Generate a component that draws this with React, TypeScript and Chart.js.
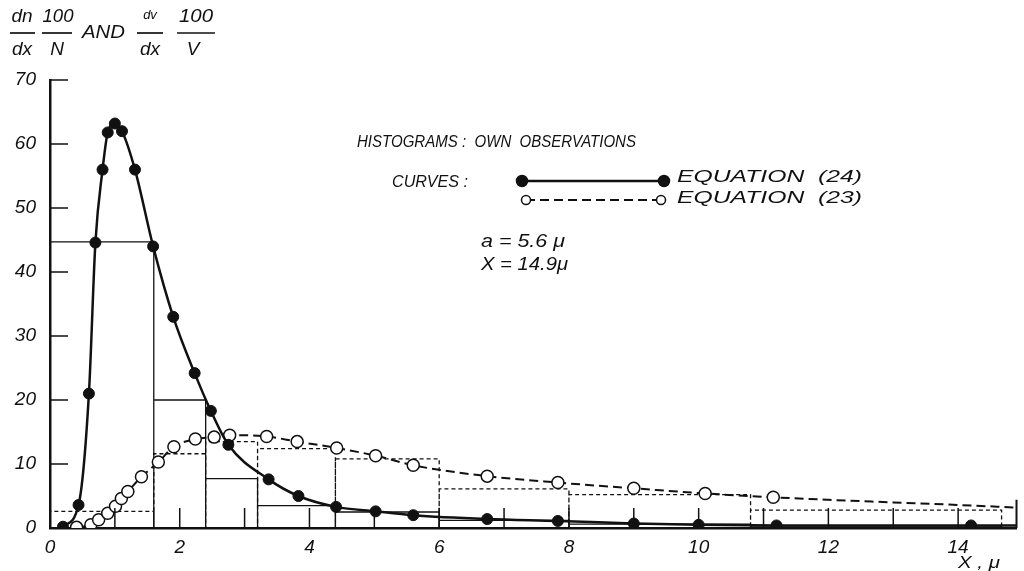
import { useEffect, useRef } from "react";
import { Chart, registerables } from "chart.js";

Chart.register(...registerables);

// ---- Data ----
// Equation (24): number distribution curve (filled circles)
const eq24X = [0.2, 0.44, 0.6, 0.7, 0.81, 0.89, 1.0, 1.11, 1.31, 1.59, 1.9, 2.23, 2.48, 2.75, 3.37, 3.83, 4.41, 5.02, 5.6, 6.74, 7.83, 9.0, 10.0, 11.2, 14.2, 14.9];
const eq24Y = [0.2, 3.6, 21, 44.6, 56, 61.8, 63.2, 62, 56, 44, 33, 24.2, 18.3, 13, 7.6, 5.0, 3.3, 2.6, 2.0, 1.4, 1.1, 0.7, 0.5, 0.4, 0.4, 0.4];
const eq24Marked = [1, 1, 1, 1, 1, 1, 1, 1, 1, 1, 1, 1, 1, 1, 1, 1, 1, 1, 1, 1, 1, 1, 1, 1, 1, 0];

// Equation (23): volume distribution curve (open circles)
const eq23X = [0.41, 0.63, 0.75, 0.89, 1.01, 1.1, 1.2, 1.41, 1.67, 1.91, 2.24, 2.53, 2.77, 3.34, 3.81, 4.42, 5.02, 5.6, 6.74, 7.83, 9.0, 10.1, 11.15, 12, 13, 14, 14.9];
const eq23Y = [0.1, 0.5, 1.3, 2.3, 3.4, 4.6, 5.7, 8.0, 10.3, 12.7, 13.9, 14.2, 14.5, 14.3, 13.5, 12.5, 11.3, 9.8, 8.1, 7.1, 6.2, 5.4, 4.8, 4.4, 4.0, 3.6, 3.2];
const eq23Marked = [1, 1, 1, 1, 1, 1, 1, 1, 1, 1, 1, 1, 1, 1, 1, 1, 1, 1, 1, 1, 1, 1, 1, 0, 0, 0, 0];

// Histograms (own observations)
const binEdges = [0, 1.6, 2.4, 3.2, 4.4, 6.0, 8.0, 10.8, 14.67];
const numberHist = [44.7, 20, 7.7, 3.5, 2.5, 1.2, 0.6, 0.3];
const volumeHist = [2.6, 11.6, 13.5, 12.4, 10.8, 6.1, 5.2, 2.8];

// End marker at the largest particle size
const xLargest = 14.9;
const endMarkHeight = 4.4;

// Axes
const xMin = 0;
const xMax = 14.9;
const yMin = 0;
const yMax = 70;
const xTickValues = [0, 1, 2, 3, 4, 5, 6, 7, 8, 9, 10, 11, 12, 13, 14];
const xTickLabels = ["0", "", "2", "", "4", "", "6", "", "8", "", "10", "", "12", "", "14"];
const yTickValues = [0, 10, 20, 30, 40, 50, 60, 70];
const yTickLabels = ["0", "10", "20", "30", "40", "50", "60", "70"];

const FONT = "'Liberation Sans', 'DejaVu Sans', sans-serif";

function histPoints(edges: number[], heights: number[]) {
  const pts: { x: number; y: number }[] = [];
  heights.forEach((h, i) => {
    pts.push({ x: edges[i], y: 0 });
    pts.push({ x: edges[i], y: h });
    pts.push({ x: edges[i + 1], y: h });
    pts.push({ x: edges[i + 1], y: 0 });
  });
  return pts;
}

function drawText(
  ctx: CanvasRenderingContext2D,
  text: string,
  left: number,
  cy: number,
  size: number,
  width?: number,
  align: "left" | "center" = "left"
) {
  ctx.save();
  ctx.font = `italic ${size}px ${FONT}`;
  ctx.fillStyle = "#111";
  ctx.textBaseline = "middle";
  ctx.textAlign = "left";
  const w = ctx.measureText(text).width;
  const sx = width ? width / w : 1;
  const drawnW = w * sx;
  const x0 = align === "center" ? left - drawnW / 2 : left;
  ctx.translate(x0, cy);
  ctx.scale(sx, 1);
  ctx.fillText(text, 0, 0);
  ctx.restore();
}

function hline(ctx: CanvasRenderingContext2D, x1: number, x2: number, y: number, w = 1.5, dash: number[] = []) {
  ctx.save();
  ctx.strokeStyle = "#111";
  ctx.lineWidth = w;
  ctx.setLineDash(dash);
  ctx.beginPath();
  ctx.moveTo(x1, y);
  ctx.lineTo(x2, y);
  ctx.stroke();
  ctx.restore();
}

function circle(ctx: CanvasRenderingContext2D, x: number, y: number, r: number, filled: boolean) {
  ctx.save();
  ctx.beginPath();
  ctx.arc(x, y, r, 0, Math.PI * 2);
  ctx.fillStyle = filled ? "#111" : "#fff";
  ctx.fill();
  ctx.lineWidth = 1.5;
  ctx.strokeStyle = "#111";
  ctx.stroke();
  ctx.restore();
}

const decorPlugin = {
  id: "decor",
  afterDraw(chart: any) {
    const ctx: CanvasRenderingContext2D = chart.ctx;
    const xs = chart.scales.x;
    const ys = chart.scales.y;
    const area = chart.chartArea;

    // inward tick marks
    ctx.save();
    ctx.strokeStyle = "#111";
    ctx.lineWidth = 1.5;
    ctx.beginPath();
    xTickValues.forEach((v) => {
      if (v === 0) return;
      const px = xs.getPixelForValue(v);
      ctx.moveTo(px, area.bottom);
      ctx.lineTo(px, area.bottom - 20);
    });
    yTickValues.forEach((v) => {
      if (v === 0) return;
      const py = ys.getPixelForValue(v);
      ctx.moveTo(area.left, py);
      ctx.lineTo(area.left + 18, py);
    });
    ctx.stroke();
    ctx.restore();

    // y axis title (fractions)
    drawText(ctx, "dn", 22, 17, 19, undefined, "center");
    drawText(ctx, "100", 58, 17, 19, 31, "center");
    hline(ctx, 10, 35, 33, 1.7);
    hline(ctx, 42, 72, 33, 1.7);
    drawText(ctx, "dx", 22, 50, 19, undefined, "center");
    drawText(ctx, "N", 57, 50, 19, undefined, "center");
    drawText(ctx, "AND", 82, 33, 18, 43);
    drawText(ctx, "dv", 150, 15, 13, undefined, "center");
    hline(ctx, 137, 163, 33, 1.7);
    drawText(ctx, "dx", 150, 50, 19, undefined, "center");
    drawText(ctx, "100", 196, 17, 19, 34, "center");
    hline(ctx, 177, 215, 33, 1.7);
    drawText(ctx, "V", 193, 50, 19, undefined, "center");

    // legend / notes
    drawText(ctx, "HISTOGRAMS :  OWN  OBSERVATIONS", 357, 142, 17, 279);
    drawText(ctx, "CURVES :", 392, 182, 17, 76);
    hline(ctx, 522, 664, 181, 2.5);
    circle(ctx, 522, 181, 5.5, true);
    circle(ctx, 664, 181, 5.5, true);
    drawText(ctx, "EQUATION  (24)", 677, 177, 17, 185);
    hline(ctx, 526, 660, 200, 2, [9, 5]);
    circle(ctx, 526, 200, 4.5, false);
    circle(ctx, 661, 200, 4.5, false);
    drawText(ctx, "EQUATION  (23)", 677, 198, 17, 185);
    drawText(ctx, "a = 5.6 \u03bc", 481, 242, 18, 84);
    drawText(ctx, "X = 14.9\u03bc", 481, 265, 18, 87);
    drawText(ctx, "X , \u03bc", 958, 563, 17, 42);
  },
};

export default function App() {
  const ref = useRef<HTMLCanvasElement | null>(null);

  useEffect(() => {
    document.body.style.margin = "0";
    const canvas = ref.current;
    if (!canvas) return;

    const eq24 = eq24X.map((x, i) => ({ x, y: eq24Y[i] }));
    const eq23 = eq23X.map((x, i) => ({ x, y: eq23Y[i] }));

    const chart = new Chart(canvas, {
      type: "line",
      data: {
        datasets: [
          {
            label: "Equation (24)",
            data: eq24,
            borderColor: "#111",
            borderWidth: 2.5,
            cubicInterpolationMode: "monotone",
            pointRadius: eq24Marked.map((m) => (m ? 5.5 : 0)),
            pointBackgroundColor: "#111",
            pointBorderColor: "#111",
            pointBorderWidth: 1,
            clip: { left: 10, top: 10, right: 10, bottom: 0 },
          } as any,
          {
            label: "Equation (23)",
            data: eq23,
            borderColor: "#111",
            borderWidth: 2,
            borderDash: [9, 5],
            cubicInterpolationMode: "monotone",
            pointRadius: eq23Marked.map((m) => (m ? 6 : 0)),
            pointBackgroundColor: "#fff",
            pointBorderColor: "#111",
            pointBorderWidth: 1.5,
            clip: { left: 10, top: 10, right: 10, bottom: 0 },
          } as any,
          {
            label: "Number histogram",
            data: histPoints(binEdges, numberHist),
            borderColor: "#111",
            borderWidth: 1.3,
            pointRadius: 0,
            tension: 0,
          },
          {
            label: "Volume histogram",
            data: histPoints(binEdges, volumeHist),
            borderColor: "#111",
            borderWidth: 1.3,
            borderDash: [4, 3],
            pointRadius: 0,
            tension: 0,
          },
          {
            label: "Largest size",
            data: [
              { x: xLargest, y: 0 },
              { x: xLargest, y: endMarkHeight },
            ],
            borderColor: "#111",
            borderWidth: 2,
            pointRadius: 0,
            clip: 4,
          } as any,
        ],
      },
      options: {
        responsive: false,
        animation: false,
        devicePixelRatio: 1,
        layout: { padding: { left: 8, right: 4, top: 80, bottom: 0 } },
        plugins: {
          legend: { display: false },
          tooltip: { enabled: false },
          title: { display: false },
        },
        scales: {
          x: {
            type: "linear",
            min: xMin,
            max: xMax,
            afterBuildTicks: (s: any) => {
              s.ticks = xTickValues.map((v) => ({ value: v }));
            },
            afterFit: (s: any) => {
              s.height = 43;
            },
            grid: { display: true, drawOnChartArea: false, drawTicks: false },
            border: { display: true, color: "#111", width: 2.5 },
            ticks: {
              autoSkip: false,
              maxRotation: 0,
              padding: 8,
              color: "#111",
              font: { family: FONT, size: 19, style: "italic" },
              callback: (v: any) => {
                const i = xTickValues.indexOf(Number(v));
                return i >= 0 ? xTickLabels[i] : "";
              },
            },
          },
          y: {
            type: "linear",
            min: yMin,
            max: yMax,
            afterBuildTicks: (s: any) => {
              s.ticks = yTickValues.map((v) => ({ value: v }));
            },
            afterFit: (s: any) => {
              s.width = 42;
            },
            grid: { display: true, drawOnChartArea: false, drawTicks: false },
            border: { display: true, color: "#111", width: 2.5 },
            ticks: {
              padding: 14,
              color: "#111",
              font: { family: FONT, size: 19, style: "italic" },
              callback: (v: any) => {
                const i = yTickValues.indexOf(Number(v));
                return i >= 0 ? yTickLabels[i] : "";
              },
            },
          },
        },
      },
      plugins: [decorPlugin],
    });

    return () => chart.destroy();
  }, []);

  return (
    <div style={{ width: 1024, height: 571, background: "#fff" }}>
      <canvas ref={ref} width={1024} height={571} style={{ display: "block" }} />
    </div>
  );
}
